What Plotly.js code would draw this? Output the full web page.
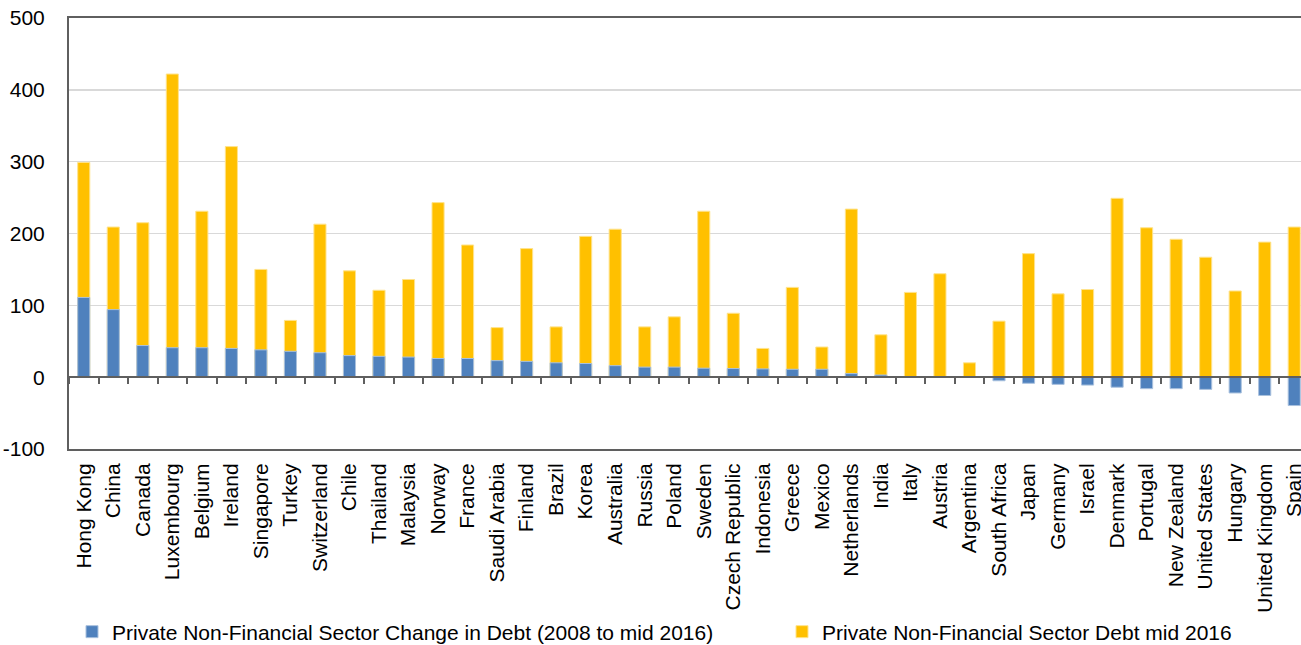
<!DOCTYPE html>
<html>
<head>
<meta charset="utf-8">
<script src="https://cdn.plot.ly/plotly-3.0.1.min.js"></script>
<style>
  html, body { margin: 0; padding: 0; overflow: hidden; background: #fff; }
  #chart { width: 1310px; height: 645px; }
</style>
</head>
<body>
<div id="chart"></div>
<script>
// Countries, ordered by change in private non-financial sector debt
const countries = [
  "Hong Kong", "China", "Canada", "Luxembourg", "Belgium", "Ireland", "Singapore",
  "Turkey", "Switzerland", "Chile", "Thailand", "Malaysia", "Norway", "France",
  "Saudi Arabia", "Finland", "Brazil", "Korea", "Australia", "Russia", "Poland",
  "Sweden", "Czech Republic", "Indonesia", "Greece", "Mexico", "Netherlands", "India",
  "Italy", "Austria", "Argentina", "South Africa", "Japan", "Germany", "Israel",
  "Denmark", "Portugal", "New Zealand", "United States", "Hungary", "United Kingdom", "Spain"
];

// Private non-financial sector debt, mid 2016 (% of GDP)
const debtMid2016 = [
  299, 209, 215, 422, 231, 321, 150,
  79, 213, 148, 121, 136, 243, 184,
  69, 179, 70, 196, 206, 70, 84,
  231, 89, 40, 125, 42, 234, 59,
  118, 144, 20, 78, 172, 116, 122,
  249, 208, 192, 167, 120, 188, 209
];

// Change in private non-financial sector debt, 2008 to mid 2016 (pp of GDP)
const changeSince2008 = [
  111, 94, 44, 41, 41, 40, 38,
  36, 34, 30, 29, 28, 26, 26,
  23, 22, 20, 19, 16, 14, 14,
  12.5, 12, 11.5, 11, 11, 5, 3,
  0, 0, 0, -5, -8.5, -10, -11,
  -14, -16, -16, -17, -22, -25.5, -39.5
];

const seriesNames = [
  "Private Non-Financial Sector Change in Debt (2008 to mid 2016)",
  "Private Non-Financial Sector Debt mid 2016"
];

const yTicks = [-100, 0, 100, 200, 300, 400, 500];

const FONT = '"Liberation Sans", Arial, sans-serif';
const FONT_SIZE = 21;
const AXIS_DARK = '#5f5f5f';
const BAR_W = 0.41;
const FIG_W = 1310;
const FIG_H = 645;

const traces = [
  {
    type: 'bar',
    name: seriesNames[1],
    x: countries,
    y: debtMid2016,
    xaxis: 'x',
    yaxis: 'y',
    width: BAR_W,
    legend: 'legend2',
    marker: { color: '#FFC000', line: { color: '#FFE38C', width: 1 } },
    hoverinfo: 'x+y'
  },
  {
    type: 'bar',
    name: seriesNames[0],
    x: countries,
    y: changeSince2008,
    xaxis: 'x2',
    yaxis: 'y',
    width: BAR_W,
    legend: 'legend',
    marker: { color: '#4F81BD', line: { color: '#A9C1DE', width: 1 } },
    hoverinfo: 'x+y'
  }
];

const n = countries.length;

// Both legends sit in a single row below the tick labels
const legendBase = {
  orientation: 'h',
  xref: 'container',
  yref: 'container',
  xanchor: 'left',
  y: (FIG_H - 632) / FIG_H,
  yanchor: 'middle',
  itemwidth: 30,
  font: { family: FONT, size: FONT_SIZE, color: '#000000' },
  bgcolor: 'rgba(0,0,0,0)'
};

const layout = {
  width: FIG_W,
  height: FIG_H,
  margin: { l: 69, r: 1, t: 18, b: 196 },
  paper_bgcolor: '#ffffff',
  plot_bgcolor: '#ffffff',
  font: { family: FONT, size: FONT_SIZE, color: '#000000' },
  barmode: 'overlay',
  showlegend: true,
  legend: Object.assign({}, legendBase, { x: 72 / FIG_W }),
  legend2: Object.assign({}, legendBase, { x: 782 / FIG_W }),
  xaxis: {
    type: 'category',
    categoryorder: 'array',
    categoryarray: countries,
    range: [-0.5, n - 0.5],
    automargin: false,
    showline: true,
    mirror: true,
    linecolor: AXIS_DARK,
    linewidth: 2,
    ticks: '',
    showgrid: false,
    zeroline: false,
    tickangle: -90,
    ticklabelstandoff: 4,
    tickfont: { family: FONT, size: FONT_SIZE, color: '#000000' },
    fixedrange: true
  },
  // Category axis drawn along y = 0, carrying the boundary ticks
  xaxis2: {
    type: 'category',
    categoryorder: 'array',
    categoryarray: countries,
    range: [-0.5, n - 0.5],
    overlaying: 'x',
    anchor: 'free',
    position: (0 - yTicks[0]) / (yTicks[yTicks.length - 1] - yTicks[0]),
    side: 'bottom',
    automargin: false,
    showline: true,
    linecolor: AXIS_DARK,
    linewidth: 2,
    ticks: 'outside',
    tickson: 'boundaries',
    ticklen: 6,
    tickwidth: 2,
    tickcolor: AXIS_DARK,
    showticklabels: false,
    showgrid: false,
    zeroline: false,
    fixedrange: true
  },
  yaxis: {
    range: [yTicks[0], yTicks[yTicks.length - 1]],
    tickvals: yTicks,
    ticktext: yTicks.map(String),
    automargin: false,
    showline: true,
    linecolor: AXIS_DARK,
    linewidth: 2,
    ticks: '',
    ticklabelstandoff: 18,
    showgrid: true,
    gridcolor: '#D9D9D9',
    gridwidth: 1.5,
    zeroline: false,
    tickfont: { family: FONT, size: FONT_SIZE, color: '#000000' },
    fixedrange: true
  }
};

Plotly.newPlot('chart', traces, layout, { displayModeBar: false, staticPlot: true });
</script>
</body>
</html>
